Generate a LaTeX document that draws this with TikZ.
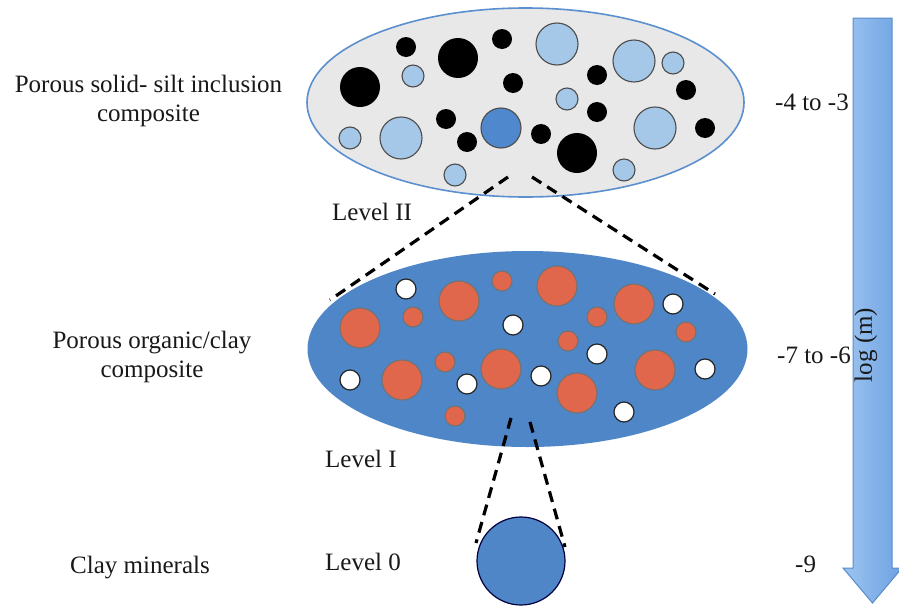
\documentclass[tikz,border=0pt]{standalone}
\usepackage{fontspec}
\setmainfont{Liberation Serif}
\definecolor{ellgray}{HTML}{E8E8E8}
\definecolor{ellline}{HTML}{5B8FCF}
\definecolor{lblue}{HTML}{A6C8E8}
\definecolor{mblue}{HTML}{4F88CC}
\definecolor{matblue}{HTML}{4E86C8}
\definecolor{redinc}{HTML}{E0664C}
\definecolor{arrL}{HTML}{9CC4F0}
\definecolor{arrR}{HTML}{6EA2E2}
\definecolor{arrD}{HTML}{5A8CCB}
\begin{document}
\begin{tikzpicture}[x=1pt,y=-1pt,
  lbl/.style={font=\fontsize{25}{29}\selectfont, inner sep=0pt, text=black!90},
  blk/.style={fill=black},
  lbc/.style={fill=lblue, draw=black!70, line width=1.1pt},
  redc/.style={fill=redinc, draw=black!55, line width=1.1pt},
  whc/.style={fill=white, draw=black!85, line width=1.2pt},
  zoomline/.style={dashed, dash pattern=on 11pt off 7pt, line width=3.2pt, black}]
\useasboundingbox (0,0) rectangle (899,608);
\fill[white] (0,0) rectangle (899,608);
% top ellipse
\draw[ellline, fill=ellgray, line width=1.6pt] (525.5,102.5) ellipse [x radius=218.5pt, y radius=94.5pt];
\foreach \p in {(360,87),(458,58),(577,153)} \fill[blk] \p circle[radius=20pt];
\foreach \p in {(406,47),(502,39),(513,83),(597,75),(686,90),(597,112),(705,128),(446,119),(467,142),(541,134)} \fill[blk] \p circle[radius=10pt];
\foreach \p in {(557,44),(634,61),(655,128),(401,138)} \draw[lbc] \p circle[radius=21pt];
\foreach \p in {(413,76),(673,63),(567,99),(350,138),(455,175),(624,170)} \draw[lbc] \p circle[radius=11pt];
\draw[fill=mblue, draw=black!70, line width=1.1pt] (501,128) circle[radius=20pt];
% middle ellipse
\fill[matblue] (527.5,349) ellipse [x radius=220pt, y radius=98pt];
\foreach \p in {(459,301),(557,286),(634,304),(360,328),(501,369),(655,370),(402,380),(577,393)} \draw[redc] \p circle[radius=20pt];
\foreach \p in {(502,281),(413,317),(597,317),(686,332),(568,341),(445,362),(455,416)} \draw[redc] \p circle[radius=10pt];
\foreach \p in {(406,289),(673,304),(513,325),(597,354),(705,369),(350,380),(467,384),(541,376),(624,412)} \draw[whc] \p circle[radius=10pt];
% bottom circle
\draw[fill=matblue, draw=black!60!blue!60!black, line width=1.2pt] (521,561) circle[radius=44pt];
% zoom lines
\coordinate (t1) at (508,177); \coordinate (m1) at (330,300);
\coordinate (t2) at (532,177); \coordinate (m2) at (715,294);
\coordinate (b1) at (511,418); \coordinate (c1) at (476,543);
\coordinate (b2) at (530,422); \coordinate (c2) at (565,547);
\draw[zoomline] (t1) -- (m1);
\draw[zoomline] (t2) -- (m2);
\draw[zoomline] (b1) -- (c1);
\draw[zoomline] (b2) -- (c2);
% arrow
\shade[left color=arrL, right color=arrR, draw=arrD, line width=1pt]
  (853,18) -- (892,18) -- (892,568) -- (902,568) -- (872.5,603) -- (843,568) -- (853,568) -- cycle;
\node[lbl, rotate=90] (logm) at (866,345) {log (m)};
% labels
\node[lbl, align=center, anchor=base] (l1) at (148.5,121) {Porous solid- silt inclusion\\composite};
\node[lbl, align=center, anchor=base] (l2) at (152,377) {Porous organic/clay\\composite};
\node[lbl, anchor=base west] (c0) at (70,573) {Clay minerals};
\node[lbl, anchor=base west] (lv2) at (332,220) {Level II};
\node[lbl, anchor=base west] (lv1) at (325,467) {Level I};
\node[lbl, anchor=base west] (lv0) at (325,570) {Level 0};
\node[lbl, anchor=base west] (s1) at (775,110) {-4 to -3};
\node[lbl, anchor=base west] (s2) at (777,363) {-7 to -6};
\node[lbl, anchor=base west] (s3) at (795,572) {-9};
\end{tikzpicture}
\end{document}
